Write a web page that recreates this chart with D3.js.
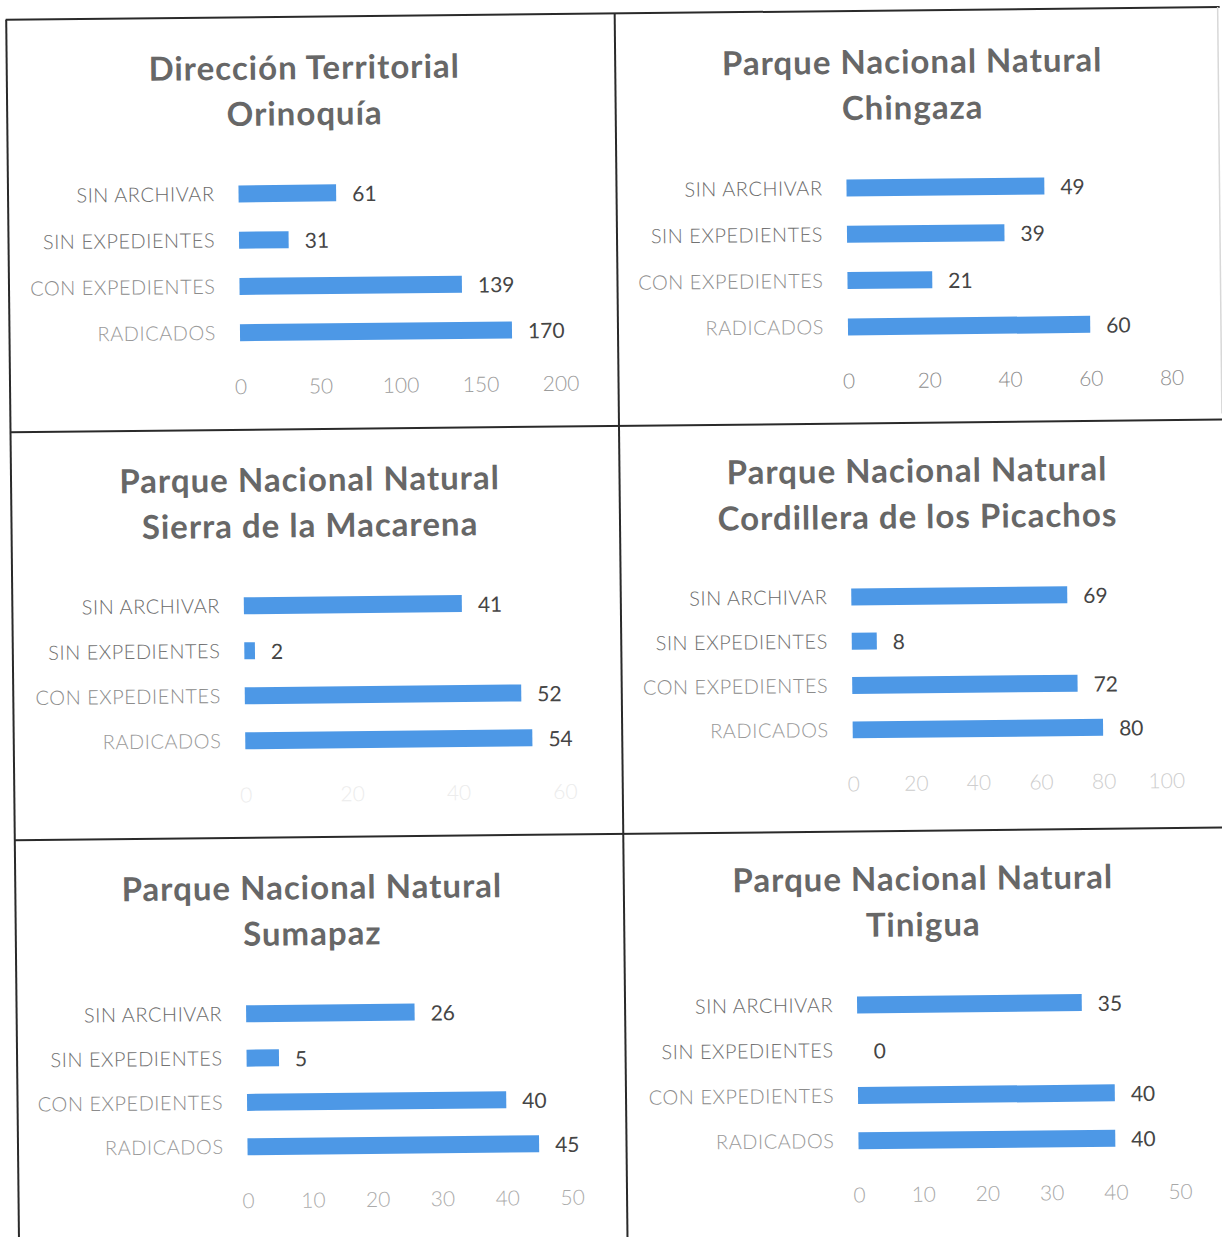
<!DOCTYPE html>
<html>
<head>
<meta charset="utf-8">
<script src="https://cdn.jsdelivr.net/npm/d3@7"></script>
<style>
  body { margin: 0; background: #fff; }
  svg { display: block; }
  text { font-family: Lato, "Open Sans", sans-serif; }
</style>
</head>
<body>
<svg id="page"></svg>
<script>
"use strict"

const WIDTH = 1222;
const HEIGHT = 1237;

// chart data
const CATEGORIES = ["SIN ARCHIVAR", "SIN EXPEDIENTES", "CON EXPEDIENTES", "RADICADOS"];
const TITLES = [
    ["Dirección Territorial", "Orinoquía"],
    ["Parque Nacional Natural", "Chingaza"],
    ["Parque Nacional Natural", "Sierra de la Macarena"],
    ["Parque Nacional Natural", "Cordillera de los Picachos"],
    ["Parque Nacional Natural", "Sumapaz"],
    ["Parque Nacional Natural", "Tinigua"]
];
const ORINOQUIA = [61, 31, 139, 170];
const CHINGAZA = [49, 39, 21, 60];
const MACARENA = [41, 2, 52, 54];
const PICACHOS = [69, 8, 72, 80];
const SUMAPAZ = [26, 5, 40, 45];
const TINIGUA = [35, 0, 40, 40];
const SERIES = [ORINOQUIA, CHINGAZA, MACARENA, PICACHOS, SUMAPAZ, TINIGUA];
const AXIS_MAX = [200, 80, 60, 100, 50, 50];
const TICK_STEP = [50, 20, 20, 20, 10, 10];

// layout of each panel (unrotated page coords)
const PANELS = [
    { x0: 243, y0: 190, step: 46.3, w: 320, tick: "#9c9c9c" },
    { x0: 851, y0: 190.5, step: 46.3, w: 323, tick: "#8e8e8e" },
    { x0: 244, y0: 602, step: 45, w: 319, tick: "#ececec" },
    { x0: 851.5, y0: 599.5, step: 44.3, w: 313, tick: "#cdcdcd" },
    { x0: 242, y0: 1010, step: 44.3, w: 324, tick: "#ababab" },
    { x0: 853, y0: 1007.5, step: 45.3, w: 321, tick: "#a8a8a8" }
];
const LABEL_COLORS = ["#6b6b6b", "#727272", "#8c8c8c", "#9a9a9a"];
const BAR_COLOR = "#4d98e6";
const BAR_H = 17;

const svg = d3.select("#page").attr("width", WIDTH).attr("height", HEIGHT);
// the scan is slightly tilted
const page = svg.append("g").attr("transform", "rotate(-0.6, 611, 618)");

// cell borders
const grid = page.append("g").attr("stroke", "#2a2a2a").attr("stroke-width", 2);
grid.append("line").attr("x1", 12).attr("x2", 1226).attr("y1", 13.5).attr("y2", 13.5);
grid.append("line").attr("x1", 12).attr("x2", 1226).attr("y1", 426).attr("y2", 426);
grid.append("line").attr("x1", 12).attr("x2", 1226).attr("y1", 834).attr("y2", 834);
grid.append("line").attr("x1", 12.5).attr("x2", 12.5).attr("y1", 13.5).attr("y2", 1260);
grid.append("line").attr("x1", 621).attr("x2", 621).attr("y1", 13.5).attr("y2", 1260);
grid.append("line").attr("x1", 1224).attr("x2", 1224).attr("y1", 13.5).attr("y2", 420)
    .attr("stroke", "#d8d8d8").attr("stroke-width", 1.5);

function drawPanel(i) {
    const p = PANELS[i];
    const values = SERIES[i];
    const g = page.append("g").attr("class", "panel");

    const x = d3.scaleLinear([0, AXIS_MAX[i]], [p.x0, p.x0 + p.w]);
    const y = d3.scalePoint(CATEGORIES, [p.y0, p.y0 + 3 * p.step]);

    // title
    g.selectAll("text.title")
        .data(TITLES[i])
        .join("text")
        .attr("class", "title")
        .attr("x", p.x0 + 67)
        .attr("y", (d, k) => p.y0 - 127 + k * 46)
        .attr("text-anchor", "middle")
        .attr("dominant-baseline", "central")
        .attr("font-size", 33)
        .attr("letter-spacing", 1)
        .attr("font-weight", "bold")
        .attr("fill", "#676767")
        .text(d => d);

    // category labels
    g.selectAll("text.cat")
        .data(CATEGORIES)
        .join("text")
        .attr("class", "cat")
        .attr("x", p.x0 - 24)
        .attr("y", d => y(d) - 1)
        .attr("text-anchor", "end")
        .attr("dominant-baseline", "central")
        .attr("font-size", 20)
        .attr("letter-spacing", 0.5)
        .attr("font-weight", 300)
        .attr("fill", (d, k) => LABEL_COLORS[k])
        .text(d => d);

    // bars
    g.selectAll("rect")
        .data(values)
        .join("rect")
        .attr("x", x(0))
        .attr("y", (d, k) => y(CATEGORIES[k]) - BAR_H / 2)
        .attr("width", d => x(d) - x(0))
        .attr("height", BAR_H)
        .attr("fill", BAR_COLOR);

    // value labels
    g.selectAll("text.val")
        .data(values)
        .join("text")
        .attr("class", "val")
        .attr("x", d => x(d) + 16)
        .attr("y", (d, k) => y(CATEGORIES[k]))
        .attr("dominant-baseline", "central")
        .attr("font-size", 21)
        .attr("fill", "#454545")
        .text(d => d);

    // x axis (labels only)
    const axis = g.append("g")
        .attr("transform", `translate(0,${p.y0 + 3 * p.step + 53})`)
        .call(d3.axisBottom(x).tickValues(d3.range(0, AXIS_MAX[i] + 1, TICK_STEP[i]))
            .tickSize(0).tickPadding(0));
    axis.select(".domain").remove();
    axis.selectAll("text")
        .attr("dy", null)
        .attr("y", 0)
        .attr("dominant-baseline", "central")
        .attr("font-size", 21)
        .attr("font-family", "Lato, sans-serif")
        .attr("font-weight", 300)
        .attr("fill", p.tick);
}

for (let i = 0; i < PANELS.length; ++i) drawPanel(i);
</script>
</body>
</html>
